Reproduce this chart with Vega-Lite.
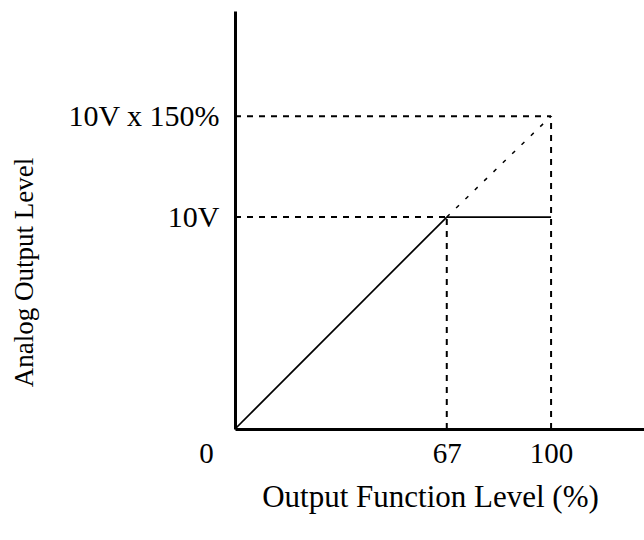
{
  "$schema": "https://vega.github.io/schema/vega-lite/v6.json",
  "autosize": "none",
  "padding": {"left": 235, "top": 11, "right": 0, "bottom": 111},
  "width": 409,
  "height": 418,
  "background": "white",
  "config": {"view": {"stroke": null}, "font": "Liberation Serif"},
  "layer": [
    {
      "data": {"values": [
        {"x": 0, "y": 0, "x2": 67, "y2": 10},
        {"x": 67, "y": 10, "x2": 100, "y2": 10}
      ]},
      "mark": {"type": "rule", "color": "black", "strokeWidth": 1.7},
      "encoding": {
        "x": {"field": "x", "type": "quantitative", "scale": {"domain": [0, 129.4], "nice": false, "zero": false},
          "axis": {
            "values": [0, 67, 100], "grid": false, "ticks": false,
            "domainColor": "black", "domainWidth": 3,
            "labelFont": "Liberation Serif", "labelFontSize": 29, "labelColor": "black",
            "labelPadding": 10, "labelFlush": false,
            "labelOffset": {"condition": {"test": "datum.value == 0", "value": -29}, "value": 0},
            "title": "Output Function Level (%)",
            "titleFont": "Liberation Serif", "titleFontSize": 31, "titleFontWeight": "normal", "titleColor": "black",
            "titleX": 195, "titleY": 68, "titleBaseline": "middle", "titleAnchor": "middle", "titleAlign": "center"
          }},
        "y": {"field": "y", "type": "quantitative", "scale": {"domain": [0, 19.72], "nice": false, "zero": false},
          "axis": {
            "values": [10, 14.76], "grid": false, "ticks": false,
            "domainColor": "black", "domainWidth": 3,
            "labelExpr": "datum.value == 10 ? '10V' : '10V x 150%'",
            "labelFont": "Liberation Serif", "labelFontSize": 30, "labelColor": "black",
            "labelPadding": 16,
            "title": "Analog Output Level",
            "titleFont": "Liberation Serif", "titleFontSize": 27, "titleFontWeight": "normal", "titleColor": "black",
            "titleX": -211, "titleY": 261, "titleAngle": -90, "titleBaseline": "middle", "titleAnchor": "middle", "titleAlign": "center"
          }},
        "x2": {"field": "x2"},
        "y2": {"field": "y2"}
      }
    },
    {
      "data": {"values": [
        {"x": 67, "y": 10, "x2": 100, "y2": 14.76}
      ]},
      "mark": {"type": "rule", "color": "black", "strokeWidth": 1.5, "strokeDash": [4, 9]},
      "encoding": {
        "x": {"field": "x", "type": "quantitative"},
        "y": {"field": "y", "type": "quantitative"},
        "x2": {"field": "x2"},
        "y2": {"field": "y2"}
      }
    },
    {
      "data": {"values": [
        {"x": 0, "y": 10, "x2": 67, "y2": 10},
        {"x": 0, "y": 14.76, "x2": 100, "y2": 14.76},
        {"x": 67, "y": 0, "x2": 67, "y2": 10},
        {"x": 100, "y": 0, "x2": 100, "y2": 14.76}
      ]},
      "mark": {"type": "rule", "color": "black", "strokeWidth": 2, "strokeDash": [6, 6]},
      "encoding": {
        "x": {"field": "x", "type": "quantitative"},
        "y": {"field": "y", "type": "quantitative"},
        "x2": {"field": "x2"},
        "y2": {"field": "y2"}
      }
    }
  ]
}
